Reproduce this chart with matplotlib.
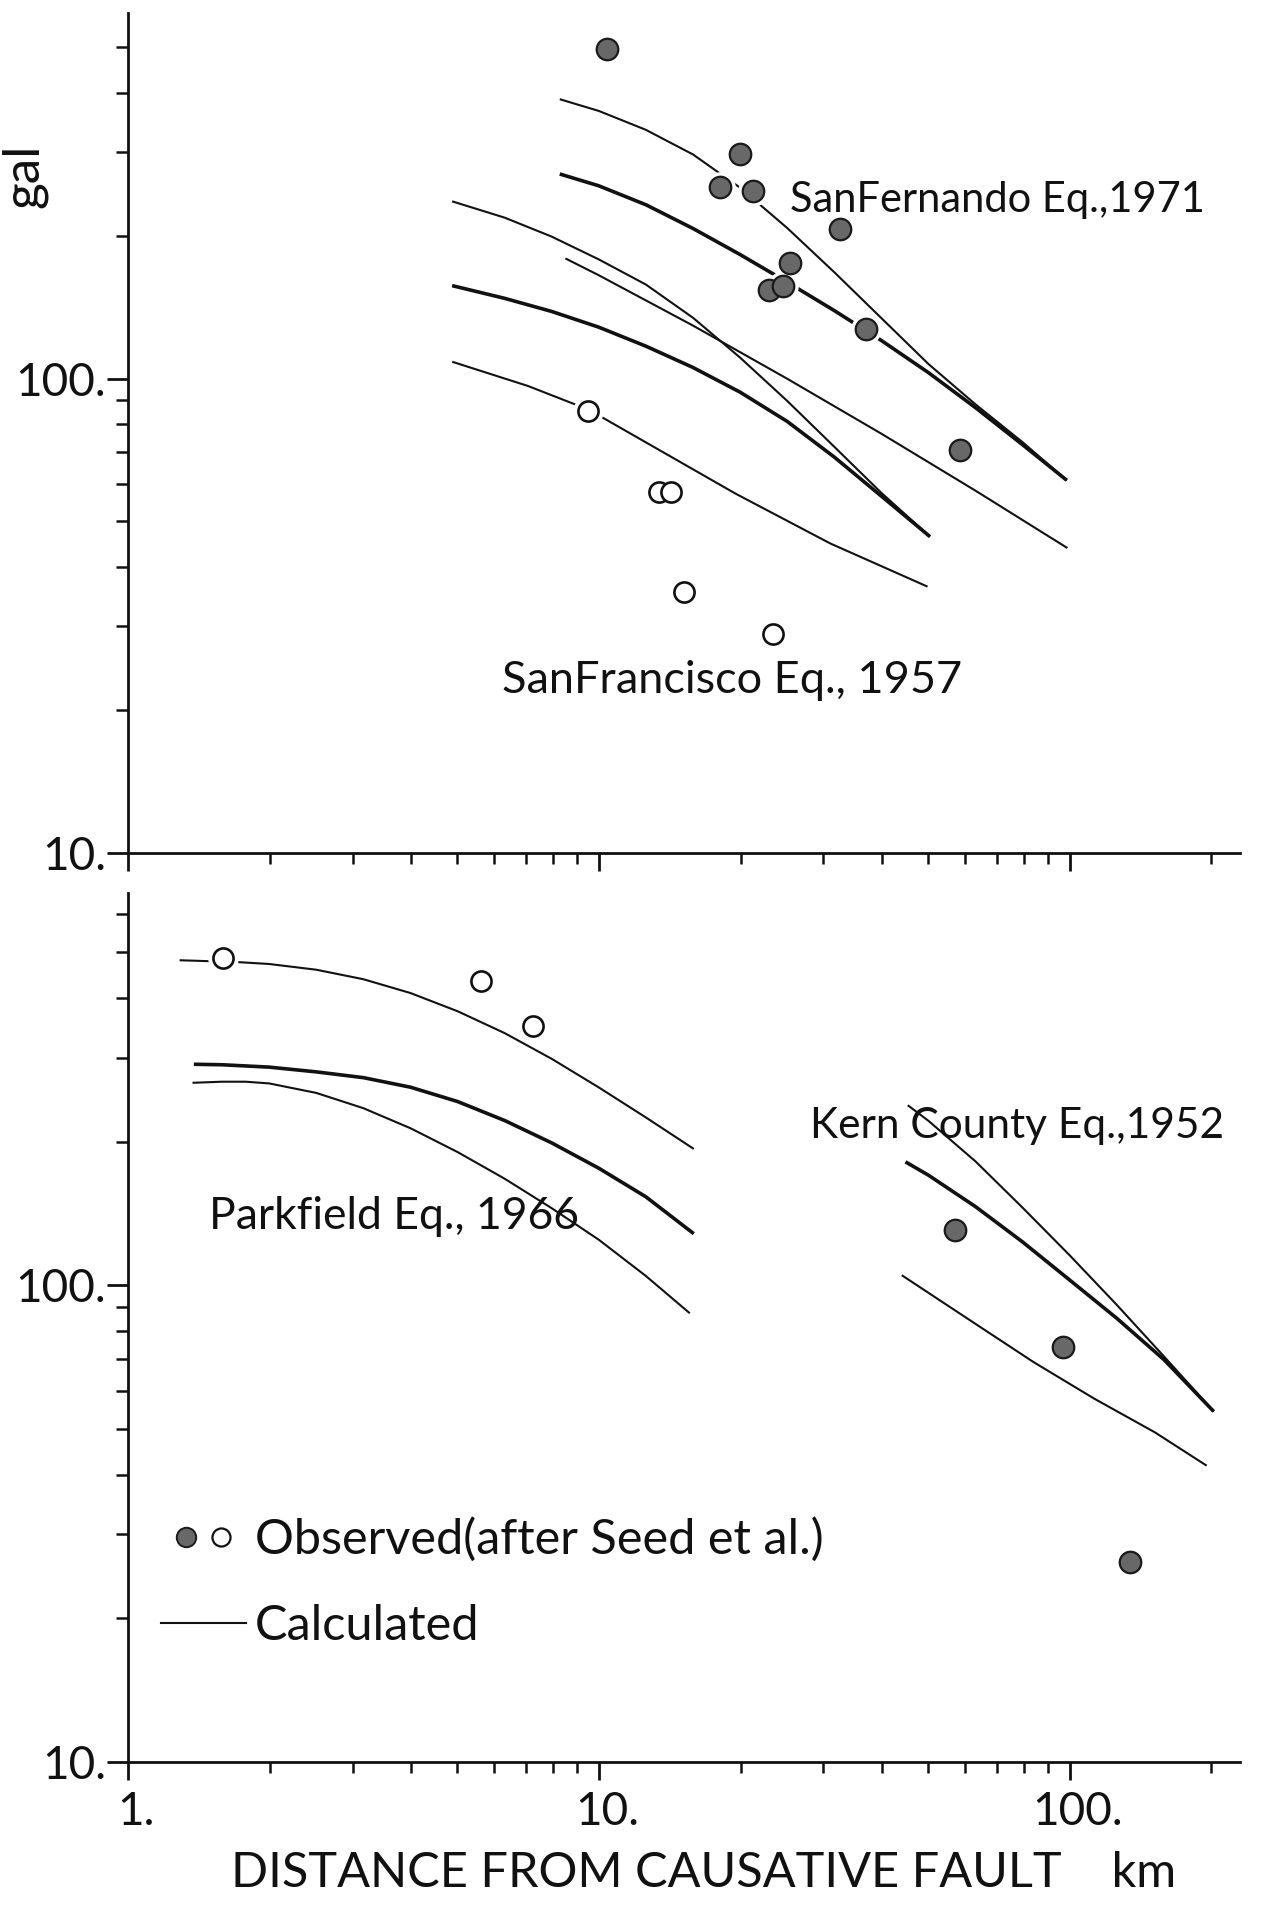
import matplotlib
matplotlib.use("Agg")
import matplotlib.pyplot as plt
import matplotlib.transforms as mtransforms
from matplotlib.ticker import FixedLocator, FixedFormatter, NullFormatter
from matplotlib.lines import Line2D

plt.rcParams['font.family'] = ['Lato', 'DejaVu Sans']

# ---------------- data (distance km, acceleration gal) ----------------
# San Fernando Eq., 1971 (observed, filled)
sfern_obs_x = [10.4, 19.9, 18.1, 21.3, 32.5, 25.5, 23.0, 24.6, 37.0, 58.5]
sfern_obs_y = [495, 298, 253, 249, 207, 175, 154, 157, 127, 70.6]
# San Francisco Eq., 1957 (observed, open)
sfran_obs_x = [9.5, 13.4, 14.2, 15.2, 23.4]
sfran_obs_y = [85.6, 57.7, 57.7, 35.5, 28.9]

# calculated curves, upper panel
top_a_x = [8.26, 10.0, 12.59, 15.85, 19.95, 25.12, 31.62, 39.81, 50.12, 63.1, 79.43, 98.6]
top_a_y = [388.2, 366.7, 334.5, 296.8, 252.6, 207.7, 167.6, 134.1, 107.3, 88.2, 73.4, 61.0]
top_b_x = [8.26, 10.0, 12.59, 15.85, 19.95, 25.12, 31.62, 39.81, 50.12, 63.1, 79.43, 98.6]
top_b_y = [270.0, 254.9, 232.5, 207.2, 182.6, 159.7, 139.1, 120.3, 102.9, 86.8, 72.5, 61.0]
top_c_x = [4.88, 6.31, 7.94, 10.0, 12.59, 15.85, 19.95, 25.12, 31.62, 39.81, 50.5]
top_c_y = [236.4, 218.4, 199.2, 178.3, 157.8, 134.3, 110.7, 89.7, 71.8, 57.4, 46.4]
top_d_x = [8.49, 10.0, 15.85, 25.12, 39.81, 63.1, 98.9]
top_d_y = [179.2, 165.1, 129.3, 99.9, 76.5, 58.0, 43.9]
top_e_x = [4.88, 6.31, 7.94, 10.0, 12.59, 15.85, 19.95, 25.12, 31.62, 39.81, 50.5]
top_e_y = [157.0, 147.6, 138.5, 128.3, 117.0, 105.5, 93.6, 81.2, 68.3, 56.5, 46.4]
top_f_x = [4.88, 7.08, 9.53, 19.5, 31.0, 49.9]
top_f_y = [108.5, 96.4, 85.9, 57.2, 44.9, 36.4]

# Parkfield Eq., 1966 (observed, open)
park_obs_x = [1.59, 5.61, 7.23]
park_obs_y = [485, 435, 350]
# Kern County Eq., 1952 (observed, filled)
kern_obs_x = [57.0, 96.7, 134.1]
kern_obs_y = [130.4, 74.2, 26.2]

# calculated curves, lower panel
park_1_x = [1.287, 1.701, 1.995, 2.512, 3.162, 3.981, 5.012, 6.31, 7.943, 10.0, 12.59, 15.91]
park_1_y = [480.5, 476.4, 471.9, 459.0, 438.4, 410.1, 375.6, 337.9, 298.4, 259.9, 224.8, 193.1]
park_2_x = [1.38, 1.585, 1.995, 2.512, 3.162, 3.981, 5.012, 6.31, 7.943, 10.0, 12.59, 15.91]
park_2_y = [290.7, 290.0, 286.7, 280.2, 272.5, 260.2, 242.8, 221.5, 198.8, 175.9, 153.2, 128.2]
park_3_x = [1.371, 1.585, 1.778, 1.995, 2.512, 3.162, 3.981, 5.012, 6.31, 7.943, 10.0, 12.59, 15.6]
park_3_y = [265.8, 267.2, 267.2, 265.0, 253.1, 235.1, 213.4, 190.2, 167.2, 145.0, 124.5, 104.5, 87.3]
kern_1_x = [45.3, 50.12, 63.1, 79.43, 100.0, 125.9, 158.5, 202.3]
kern_1_y = [238.5, 221.2, 181.8, 145.4, 115.5, 90.9, 70.9, 54.3]
kern_2_x = [44.8, 50.12, 63.1, 79.43, 100.0, 125.9, 158.5, 202.3]
kern_2_y = [181.4, 170.1, 146.1, 123.2, 102.5, 85.2, 69.8, 54.3]
kern_3_x = [44.0, 62.2, 83.7, 112.7, 151.7, 195.4]
kern_3_y = [104.9, 83.7, 69.0, 57.8, 49.1, 41.8]

# axes ticks / labels
x_major = [1, 10, 100]
x_major_labels = ['1.', '10.', '100.']
x_minor = [2, 3, 4, 5, 6, 7, 8, 9, 20, 30, 40, 50, 60, 70, 80, 90, 200]
y_major = [10, 100]
y_major_labels = ['10.', '100.']
y_minor = [20, 30, 40, 50, 60, 70, 80, 90, 200, 300, 400, 500, 600]

# ---------------- figure ----------------
W, H = 1267, 1907
fig = plt.figure(figsize=(W / 100, H / 100), dpi=100)
fig.patch.set_facecolor('white')


def fx(px):
    return px / W


def fy(py):
    return 1 - py / H


ax_top = fig.add_axes([fx(128), fy(852.7), fx(1240) - fx(128), fy(13) - fy(852.7)])
ax_bot = fig.add_axes([fx(128), fy(1761.7), fx(1240) - fx(128), fy(893) - fy(1761.7)])

INK = '#111111'
TICK_FS = 33
THIN = 1.5
THICK = 2.6


def style(ax, ylim, show_xlabels):
    ax.set_xscale('log')
    ax.set_yscale('log')
    ax.set_xlim(1, 230)
    ax.set_ylim(*ylim)
    ax.set_facecolor('white')
    for s in ['top', 'right']:
        ax.spines[s].set_visible(False)
    for s in ['left', 'bottom']:
        ax.spines[s].set_linewidth(2.0)
        ax.spines[s].set_color(INK)
    ax.xaxis.set_major_locator(FixedLocator(x_major))
    ax.xaxis.set_minor_locator(FixedLocator(x_minor))
    ax.yaxis.set_major_locator(FixedLocator(y_major))
    ax.yaxis.set_minor_locator(FixedLocator(y_minor))
    ax.yaxis.set_major_formatter(FixedFormatter(y_major_labels))
    ax.yaxis.set_minor_formatter(NullFormatter())
    ax.xaxis.set_minor_formatter(NullFormatter())
    if show_xlabels:
        ax.xaxis.set_major_formatter(FixedFormatter(x_major_labels))
    else:
        ax.xaxis.set_major_formatter(NullFormatter())
    ax.tick_params(which='both', direction='out', color=INK, labelcolor=INK,
                   labelsize=TICK_FS)
    ax.tick_params(axis='x', which='major', length=13, width=2.0, pad=8)
    ax.tick_params(axis='x', which='minor', length=8, width=1.8)
    ax.tick_params(axis='y', which='major', length=15, width=2.0, pad=1)
    ax.tick_params(axis='y', which='minor', length=8.5, width=1.8)
    if show_xlabels:
        off = mtransforms.ScaledTranslation(8 / 100, 0, fig.dpi_scale_trans)
        for lab in ax.get_xticklabels():
            lab.set_transform(lab.get_transform() + off)


style(ax_top, (10, 590), False)
style(ax_bot, (10, 665), True)


def curve(ax, x, y, lw):
    ax.plot(x, y, color=INK, lw=lw, solid_capstyle='butt', solid_joinstyle='round', zorder=2)


def points(ax, x, y, filled):
    ax.plot(x, y, 'o', ms=22, mfc='white', mec='none', zorder=3)
    if filled:
        ax.plot(x, y, 'o', ms=15.5, mfc='#686868', mec='#1a1a1a', mew=1.6, zorder=4)
    else:
        ax.plot(x, y, 'o', ms=14.5, mfc='white', mec=INK, mew=1.9, zorder=4)


# upper panel
curve(ax_top, top_a_x, top_a_y, THIN)
curve(ax_top, top_b_x, top_b_y, THICK)
curve(ax_top, top_c_x, top_c_y, THIN)
curve(ax_top, top_d_x, top_d_y, THIN)
curve(ax_top, top_e_x, top_e_y, THICK)
curve(ax_top, top_f_x, top_f_y, THIN)
points(ax_top, sfern_obs_x, sfern_obs_y, True)
points(ax_top, sfran_obs_x, sfran_obs_y, False)

# lower panel
curve(ax_bot, park_1_x, park_1_y, THIN)
curve(ax_bot, park_2_x, park_2_y, THICK)
curve(ax_bot, park_3_x, park_3_y, THIN)
curve(ax_bot, kern_1_x, kern_1_y, THIN)
curve(ax_bot, kern_2_x, kern_2_y, THICK)
curve(ax_bot, kern_3_x, kern_3_y, THIN)
points(ax_bot, park_obs_x, park_obs_y, False)
points(ax_bot, kern_obs_x, kern_obs_y, True)

# axis labels
ax_top.set_ylabel('gal', fontsize=37, color=INK, rotation=90, ha='center', va='center')
ax_top.yaxis.set_label_coords((24 - 128) / 1112, 1 - (176 - 13) / 839.7)
ax_bot.set_xlabel('DISTANCE FROM CAUSATIVE FAULT    km', fontsize=35, color=INK,
                  ha='left', va='center')
ax_bot.xaxis.set_label_coords((231 - 128) / 1112, -(1873 - 1761.7) / 868.7)

# annotations (text, left x px, baseline y px, font size)
notes = [
    ('SanFernando Eq.,1971', 790, 212, 30),
    ('SanFrancisco Eq., 1957', 502, 693, 32.5),
    ('Parkfield Eq., 1966', 209, 1229, 32),
    ('Kern County Eq.,1952', 810, 1138, 30.5),
    ('Observed(after Seed et al.)', 255, 1554, 35),
    ('Calculated', 255, 1640, 35),
]
for txt, px, py, fs in notes:
    fig.text(fx(px), fy(py), txt, fontsize=fs, color=INK, ha='left', va='baseline')

# legend keys
fig.add_artist(Line2D([fx(186)], [fy(1537)], marker='o', ms=14, mfc='#686868',
                      mec='#1a1a1a', mew=1.4, transform=fig.transFigure))
fig.add_artist(Line2D([fx(221)], [fy(1537)], marker='o', ms=13, mfc='white',
                      mec=INK, mew=1.6, transform=fig.transFigure))
fig.add_artist(Line2D([fx(161), fx(246)], [fy(1623), fy(1623)], color=INK, lw=THIN,
                      transform=fig.transFigure))

fig.savefig('out.png', dpi=100, facecolor='white')
